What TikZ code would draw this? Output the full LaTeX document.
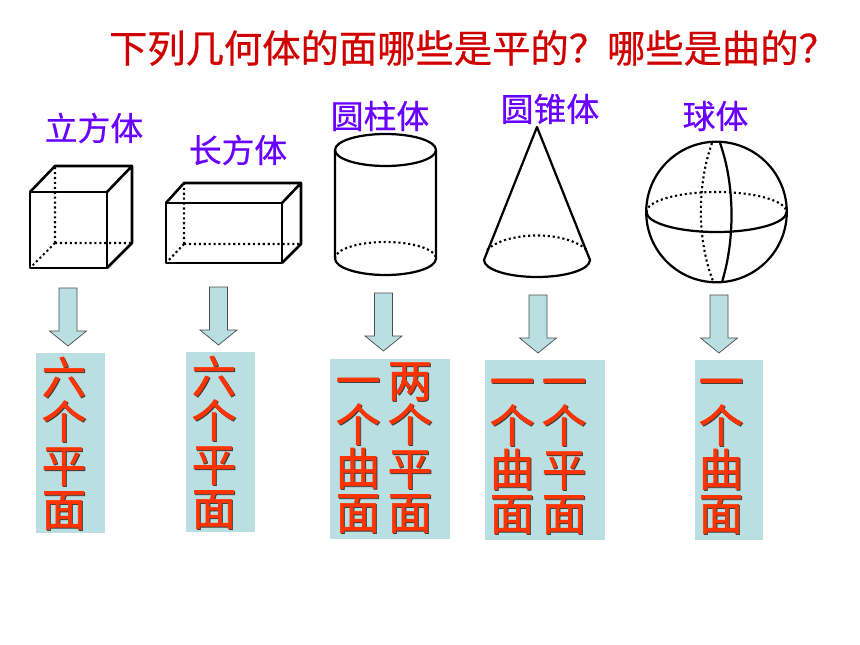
\documentclass[tikz,border=0pt]{standalone}
\usepackage{fontspec}
\newfontfamily\cjk[FakeBold=0.6]{Noto Sans CJK SC}
\newfontfamily\cjkface[FakeBold=1.4]{Noto Sans CJK SC}
\definecolor{boxblue}{HTML}{B9DFE2}
\definecolor{titlered}{HTML}{D00000}
\definecolor{namepurple}{HTML}{6A00FF}
\definecolor{facered}{HTML}{FF3300}
\tikzset{
  solid edge/.style={line width=1.9pt,line join=round},
  box edge/.style={line width=2.2pt,line join=round},
  hidden edge/.style={line width=1.8pt,dash pattern=on 1.8pt off 2.4pt},
  shape name/.style={inner sep=0pt,text=namepurple,font=\cjk\fontsize{28}{28}\selectfont},
  face char/.style={inner sep=0pt,anchor=base,text=facered,font=\cjkface\fontsize{38}{38}\selectfont},
  face shade/.style={face char,text=black!75},
  blockarrow/.pic={\draw[fill=boxblue,draw=black!70,line width=0.6pt] (-9,0)--(9,0)--(9,43)--(18.5,43)--(0,58)--(-18.5,43)--(-9,43)--cycle;},
}
\begin{document}
\begin{tikzpicture}[x=0.03cm,y=-0.03cm]
\useasboundingbox (0,0) rectangle (860,645);
\node[inner sep=0pt,text=titlered,font=\cjk\fontsize{32.7}{33}\selectfont] (title) at (473,48) {下列几何体的面哪些是平的？哪些是曲的？};
\node[shape name] (cubename) at (94,128) {立方体};
\node[shape name] (boxname) at (238,150) {长方体};
\node[shape name] (cylname) at (380,116) {圆柱体};
\node[shape name] (conename) at (550,109) {圆锥体};
\node[shape name] (ballname) at (715.5,116) {球体};
% cube
\draw[hidden edge] (55,243)--(55,166) (55,243)--(132,243) (55,243)--(30,268);
\draw[box edge] (30,192) rectangle (107,268);
\draw[box edge] (30,192)--(55,166)--(132,166)--(107,192) (132,166)--(132,243)--(107,268);
% cuboid
\draw[hidden edge] (184,244)--(184,183) (184,244)--(301,244) (184,244)--(166,263);
\draw[box edge] (166,203) rectangle (282,263);
\draw[box edge] (166,203)--(184,183)--(301,183)--(282,203) (301,183)--(301,244)--(282,263);
% cylinder
\draw[solid edge] (385.5,150) ellipse [x radius=50.5,y radius=16];
\draw[solid edge] (335,150)--(335,258.5) arc[start angle=180,end angle=0,x radius=50.5,y radius=16.5]--(436,150);
\draw[hidden edge] (335,258.5) arc[start angle=180,end angle=360,x radius=50.5,y radius=16.5];
% cone
\draw[solid edge] (537,127)--(484,260) arc[start angle=180,end angle=0,x radius=53,y radius=17]--cycle;
\draw[hidden edge] (487,250) arc[start angle=-156,end angle=-24,x radius=54.5,y radius=24.5];
% ball
\draw[solid edge] (716.5,212) circle[radius=70.3];
\draw[solid edge] (646.5,212) arc[start angle=180,end angle=0,x radius=70,y radius=20];
\draw[hidden edge] (646.5,212) arc[start angle=180,end angle=360,x radius=70,y radius=20];
\draw[solid edge] (720,143) .. controls (735,185) and (735,240) .. (722,282);
\draw[hidden edge] (712,143) .. controls (697,185) and (697,240) .. (713,281);
% arrows
\path (68,288) pic {blockarrow};
\path (218.5,287) pic {blockarrow};
\path (383.5,293) pic {blockarrow};
\path (538,295) pic {blockarrow};
\path (719,295) pic {blockarrow};
% boxes
\fill[boxblue] (36,353) rectangle (105,533);
\fill[boxblue] (186,352) rectangle (255,532);
\fill[boxblue] (330,359) rectangle (450,539);
\fill[boxblue] (485,360) rectangle (605,540);
\fill[boxblue] (695,360) rectangle (763,540);
% words
\foreach \cx/\cy/\tag/\wordlist in {64/334/a/{六,个,平,面},214/333/b/{六,个,平,面},358/337/c/{一,个,曲,面},410/337/d/{两,个,平,面},512/338/e/{一,个,曲,面},564/338/f/{一,个,平,面},721/338/g/{一,个,曲,面}}{
  \foreach \ch [count=\i] in \wordlist {
    \node[face shade] (\tag s\i) at (\cx+1,\cy+44*\i+17) {\ch};
    \node[face char] (\tag\i) at (\cx,\cy+44*\i+16) {\ch};
  }
}
\end{tikzpicture}
\end{document}
